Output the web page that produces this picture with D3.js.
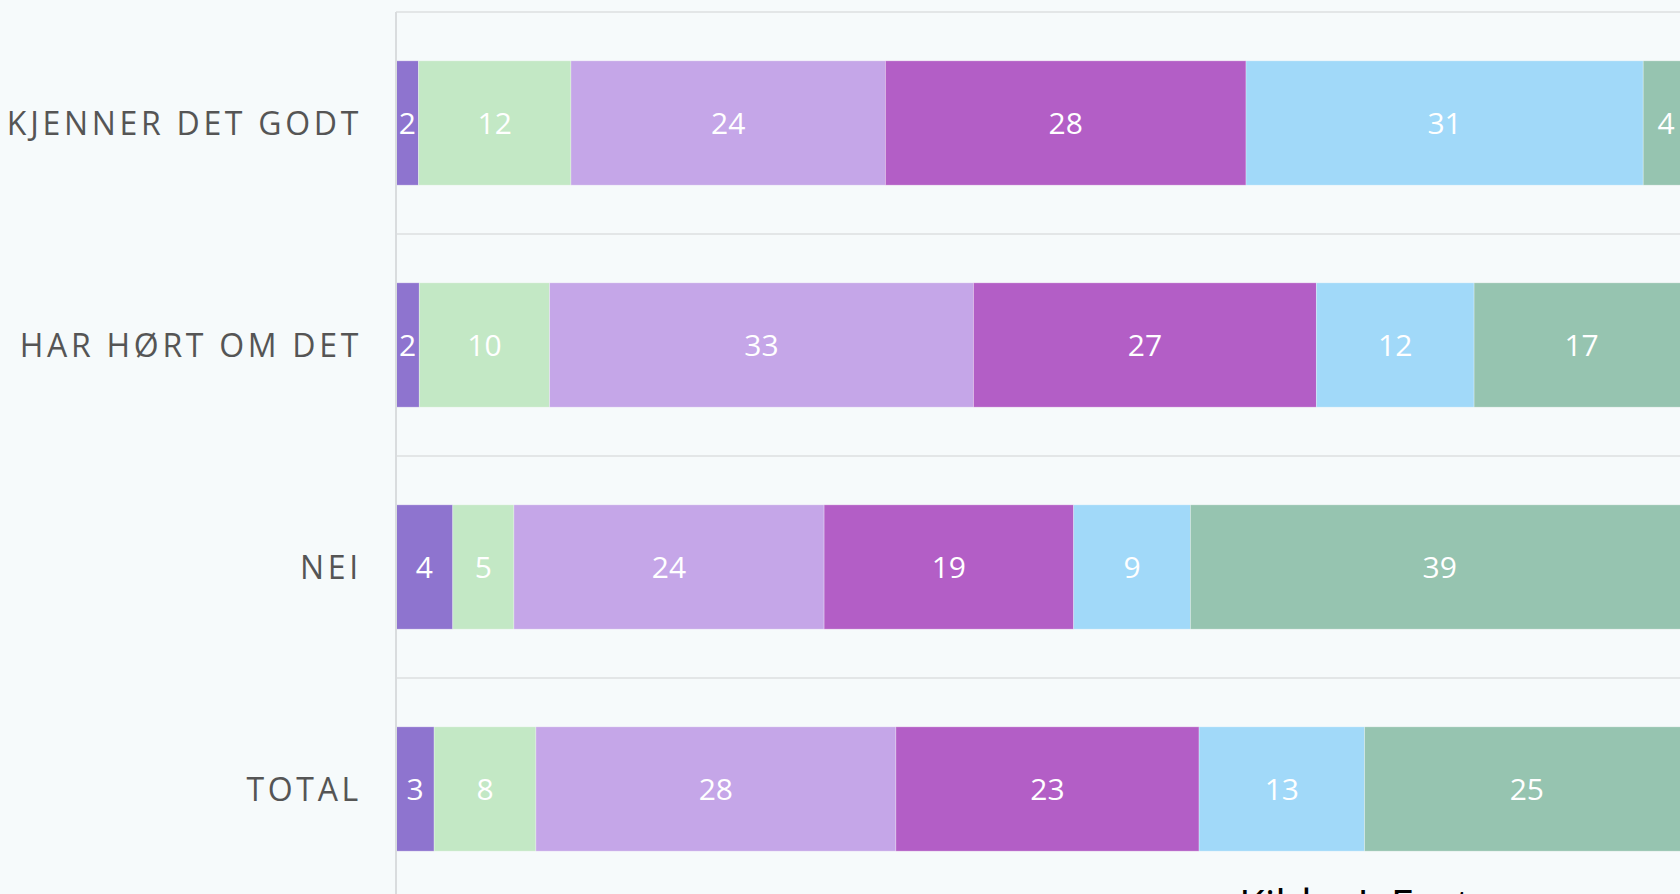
<!DOCTYPE html>
<html>
<head>
<meta charset="utf-8">
<script src="https://cdn.jsdelivr.net/npm/d3@7"></script>
<style>
  html, body { margin: 0; padding: 0; background: #f6fafb; overflow: hidden; }
  svg { display: block; font-family: "Open Sans", sans-serif; }
</style>
</head>
<body>
<div id="chart"></div>
<script>
const categories = ["KJENNER DET GODT", "HAR HØRT OM DET", "NEI", "TOTAL"];
const seriesNames = ["Svar 1", "Svar 2", "Svar 3", "Svar 4", "Svar 5", "Svar 6"];

// percent per category, one array per series
const s1 = [1.74, 1.80, 4.39, 2.95];
const s2 = [11.79, 10.08, 4.73, 7.87];
const s3 = [24.32, 32.78, 23.99, 27.84];
const s4 = [27.89, 26.52, 19.30, 23.45];
const s5 = [30.72, 12.20, 9.03, 12.80];
const s6 = [3.54, 16.62, 38.56, 25.09];

const colors = ["#8e74cf", "#c3e8c5", "#c5a6e8", "#b35ec6", "#a1d9f9", "#96c4b0"];

const seriesValues = [s1, s2, s3, s4, s5, s6];
const rows = categories.map((c, i) => {
  const r = { cat: c };
  seriesNames.forEach((s, j) => { r[s] = seriesValues[j][i]; });
  return r;
});

const width = 1680, height = 894;

const svg = d3.select("#chart")
  .append("svg")
  .attr("width", width)
  .attr("height", height);

svg.append("rect")
  .attr("width", width)
  .attr("height", height)
  .attr("fill", "#f6fafb");

const x = d3.scaleLinear().domain([0, 100]).range([396, 1689]);
const y = d3.scaleBand().domain(categories).range([12, 900])
  .paddingInner(0.44).paddingOuter(0.22);

// band separators
const edges = categories.map(c => y(c) - y.step() * y.paddingInner() / 2)
  .concat([y.range()[1]]);
svg.append("g")
  .selectAll("line")
  .data(edges)
  .enter().append("line")
  .attr("x1", x(0))
  .attr("x2", width)
  .attr("y1", d => d)
  .attr("y2", d => d)
  .attr("stroke", "#dcdfe1")
  .attr("stroke-width", 1.5);

const stack = d3.stack().keys(seriesNames)(rows);

const layer = svg.append("g")
  .selectAll("g")
  .data(stack)
  .enter().append("g")
  .attr("fill", (d, i) => colors[i]);

layer.selectAll("rect")
  .data(d => d)
  .enter().append("rect")
  .attr("x", d => x(d[0]))
  .attr("y", d => y(d.data.cat))
  .attr("width", d => x(d[1]) - x(d[0]))
  .attr("height", y.bandwidth())
  .attr("stroke", "#ffffff")
  .attr("stroke-opacity", 0.35)
  .attr("stroke-width", 0.8);

layer.selectAll("text")
  .data(d => d)
  .enter().append("text")
  .attr("x", d => (x(d[0]) + x(d[1])) / 2)
  .attr("y", d => y(d.data.cat) + y.bandwidth() / 2)
  .attr("dy", "0.36em")
  .attr("text-anchor", "middle")
  .attr("fill", "#ffffff")
  .style("font-size", "30px")
  .text(d => d3.format(".0f")(d[1] - d[0]));

// left axis
const yAxis = svg.append("g")
  .attr("transform", `translate(${x(0)},0)`)
  .call(d3.axisLeft(y).tickSize(0).tickPadding(34));
yAxis.select(".domain")
  .attr("d", `M0,12V${height}`)
  .attr("stroke", "#d9dcde")
  .attr("stroke-width", 2);
yAxis.selectAll("text")
  .attr("fill", "#555555")
  .attr("dy", "0.36em")
  .style("font-size", "32px")
  .style("letter-spacing", "3.7px")
  .style("font-family", "'Open Sans', sans-serif");

// source note, mostly below the visible area
svg.append("text")
  .attr("x", 1239)
  .attr("y", 920)
  .attr("fill", "#000000")
  .style("font-size", "42px")
  .text("Kilde: I. Fast");
</script>
</body>
</html>
